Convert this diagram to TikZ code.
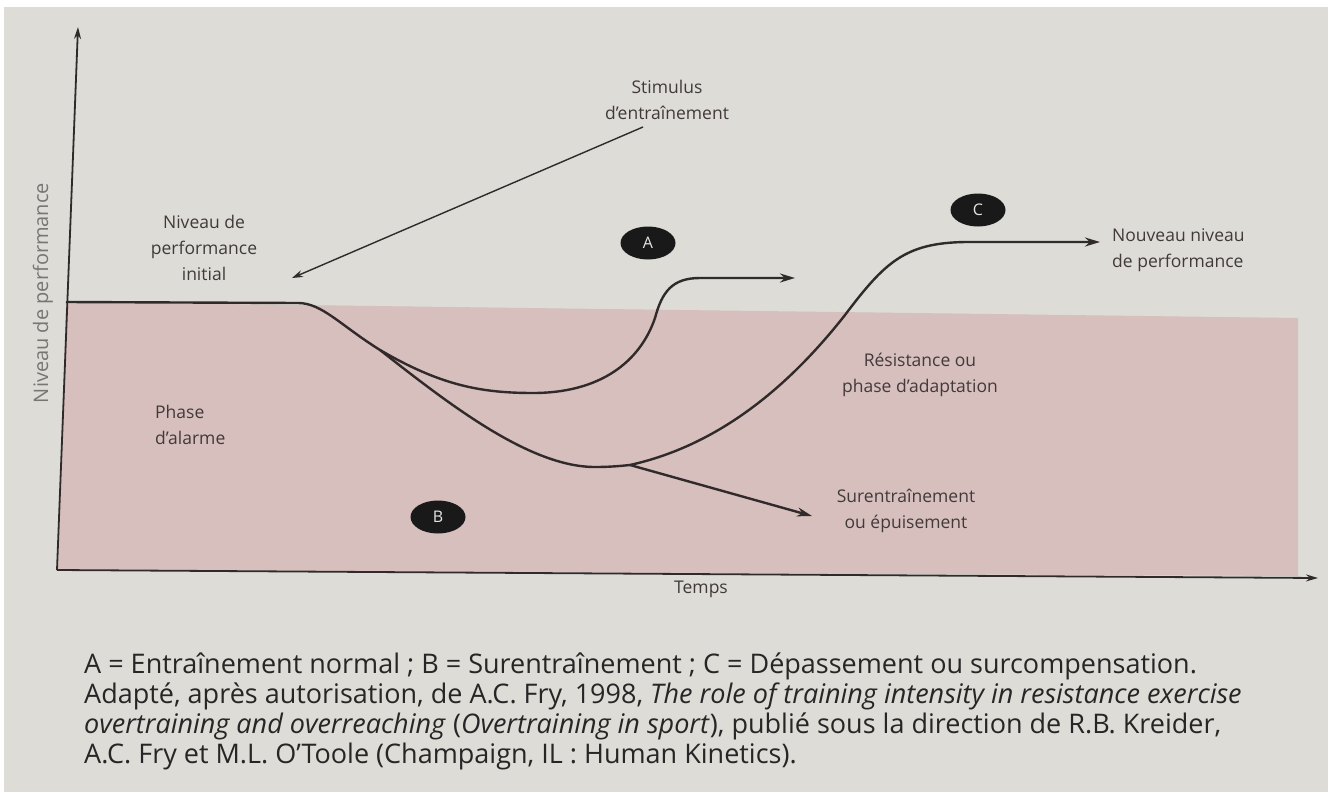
\documentclass[tikz,border=0pt]{standalone}
\usepackage{fontspec}
\setmainfont{Open Sans}
\usetikzlibrary{arrows.meta,shapes.geometric}
\definecolor{bgc}{RGB}{221,220,215}
\definecolor{pinkc}{RGB}{215,191,189}
\definecolor{inkc}{RGB}{48,42,42}
\definecolor{labc}{RGB}{66,58,58}
\definecolor{ylab}{RGB}{120,118,115}
\tikzset{
  curve/.style={line width=2.4pt, draw=inkc},
  bigtip/.style={-{Stealth[length=15pt,width=9pt]}},
  axis/.style={line width=1.8pt, draw=inkc, -{Stealth[length=12pt,width=7pt]}},
  lab/.style={text=labc, font=\fontsize{17.5}{26}\selectfont, align=center, inner sep=0pt},
  badge/.style={ellipse, fill=black!90, text=white!80!gray, font=\fontsize{16}{16}\selectfont, minimum width=55pt, minimum height=33pt, inner sep=0pt},
  capt/.style={anchor=west, text=black!85, font=\fontsize{27}{30}\selectfont, inner sep=0pt}
}
\begin{document}
\begin{tikzpicture}[x=1pt,y=-1pt]
\useasboundingbox (0,0) rectangle (1335,792);
\fill[white] (0,0) rectangle (1335,792);
\fill[bgc] (4,7) rectangle (1328,792);
% pink zone
\fill[pinkc] (66,302) -- (1298,318) -- (1298,576) -- (58,570) -- cycle;

% axes
\coordinate (O) at (57,570);
\coordinate (Ytop) at (78,27);
\coordinate (Xend) at (1318,578);
\draw[axis] (O) -- (Ytop);
\draw[axis] (O) -- (Xend);

% curve coordinates
\coordinate (start) at (66,302);
\coordinate (bend) at (298,303);
\coordinate (branch) at (380,350);
\coordinate (amin) at (533,393);
\coordinate (aend) at (795,278);
\coordinate (junc) at (630,465);
\coordinate (cend) at (1100,242);
\coordinate (bend2) at (812,516);

% initial level + A curve
\draw[curve, bigtip] (start) -- (bend)
  .. controls (322,303) and (340,325) .. (branch)
  .. controls (440,385) and (480,393) .. (amin)
  .. controls (600,393) and (640,362) .. (655,318)
  .. controls (662,292) and (672,278) .. (700,278)
  -- (aend);
% B descent
\draw[curve] (branch) .. controls (450,405) and (530,467) .. (595,467)
  .. controls (610,467) and (620,466) .. (junc);
% C curve
\draw[curve, bigtip] (junc) .. controls (720,445) and (790,385) .. (845,315)
  .. controls (885,262) and (905,243) .. (965,242) -- (cend);
% B arrow
\draw[curve, bigtip] (junc) -- (bend2);

% Stimulus
\node[lab] (stim) at (667,100) {Stimulus\\d’entraînement};
\coordinate (stimA) at (643,127);
\coordinate (stimB) at (292,278);
\draw[line width=1.4pt, draw=inkc, -{Stealth[length=11pt,width=7pt]}] (stimA) -- (stimB);

% labels
\node[lab] (init) at (204,248) {Niveau de\\performance\\initial};
\node[lab, align=left, anchor=west] (alarme) at (155,425) {Phase\\d’alarme};
\node[lab, align=left, anchor=west] (nouveau) at (1112,250) {Nouveau niveau\\de performance};
\node[lab] (resist) at (920,375) {Résistance ou\\phase d’adaptation};
\node[lab] (suren) at (906,511) {Surentraînement\\ou épuisement};
\node[lab] (temps) at (701,589) {Temps};
\node[text=ylab, font=\fontsize{20}{20}\selectfont, rotate=90, inner sep=0pt] (ylabel) at (43,293) {Niveau de performance};

% badges
\node[badge] (A) at (648,243) {A};
\node[badge] (B) at (438,517) {B};
\node[badge] (C) at (978,210) {C};

% caption
\node[capt] (cap1) at (84,666) {A = Entraînement normal ; B = Surentraînement ; C = Dépassement ou surcompensation.};
\node[capt] (cap2) at (84,696) {Adapté, après autorisation, de A.C. Fry, 1998, \textit{The role of training intensity in resistance exercise}};
\node[capt] (cap3) at (84,726) {\textit{overtraining and overreaching} (\textit{Overtraining in sport}), publié sous la direction de R.B. Kreider,};
\node[capt] (cap4) at (84,756) {A.C. Fry et M.L. O’Toole (Champaign, IL : Human Kinetics).};
\end{tikzpicture}
\end{document}
